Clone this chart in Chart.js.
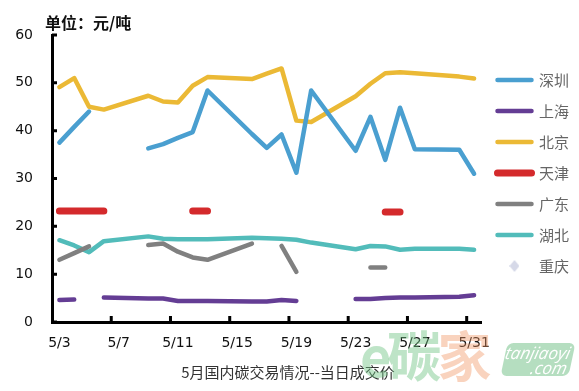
<!DOCTYPE html>
<html>
<head>
<meta charset="utf-8">
<script src="https://cdn.jsdelivr.net/npm/chart.js@4"></script>
<style>
    html, body { margin: 0; padding: 0; background: #fff; }
    #wrap { position: relative; width: 579px; height: 391px; overflow: hidden; }
    #priceChart { position: absolute; left: 0; top: 0; }
    .unit {
        position: absolute; left: 45px; top: 11px;
        font: bold 16px "Noto Sans CJK SC"; color: #111; line-height: 22px;
    }
    .caption {
        position: absolute; left: 0; width: 576px; top: 361px; text-align: center;
        font: 15px "Noto Sans CJK SC"; color: #333; line-height: 22px;
    }
    .wm {
        position: absolute; left: 360px; top: 321px; white-space: nowrap;
        font: bold 54px "Noto Sans CJK SC"; line-height: 66px; letter-spacing: -4px;
    }
    .wm .g { color: rgba(110, 195, 130, 0.45); }
    .wm .o { color: rgba(240, 150, 100, 0.42); }
    .wm-box {
        position: absolute; left: 504px; top: 343px; width: 68px; height: 33px;
        background: rgba(120, 195, 140, 0.55); border-radius: 6px;
        transform: skewX(-12deg);
        color: #fff; font: italic 17px "Open Sans"; line-height: 15px; padding-top: 2px;
        text-align: right; padding-right: 3px; box-sizing: border-box;
    }
</style>
</head>
<body>
<div id="wrap">
    <canvas id="priceChart" width="579" height="391"></canvas>
    <div class="unit">单位：元/吨</div>
    <div class="caption">5月国内碳交易情况--当日成交价</div>
    <div class="wm"><span class="g">e碳</span><span class="o">家</span></div>
    <div class="wm-box">tanjiaoyi<br>.com</div>
</div>
<script>
// x axis: every calendar day, labelled every 4th
const allDays = ['5/3', '5/4', '5/5', '5/6', '5/7', '5/8', '5/9', '5/10', '5/11', '5/12',
    '5/13', '5/14', '5/15', '5/16', '5/17', '5/18', '5/19', '5/20', '5/21', '5/22',
    '5/23', '5/24', '5/25', '5/26', '5/27', '5/28', '5/29', '5/30', '5/31'];
// trading days only (weekends skipped, lines run across them)
const tradingDays = ['5/3', '5/4', '5/5', '5/6', '5/9', '5/10', '5/11', '5/12', '5/13',
    '5/16', '5/17', '5/18', '5/19', '5/20', '5/23', '5/24', '5/25', '5/26', '5/27',
    '5/30', '5/31'];

// null = no trade that day (gap in line)
const shenzhen = [37.5, 40.8, 44.0, null, 36.3, 37.2, 38.5, 39.7, 48.4, 39.3, 36.4,
    39.2, 31.2, 48.4, 35.8, 42.9, 33.9, 44.8, 36.1, 36.0, 31.0];
const shanghai = [4.6, 4.7, null, 5.1, 4.9, 4.9, 4.4, 4.4, 4.4, 4.3, 4.3,
    4.6, 4.4, null, 4.8, 4.8, 5.0, 5.1, 5.1, 5.3, 5.6];
const beijing = [49.1, 51.0, 45.0, 44.4, 47.3, 46.1, 45.9, 49.4, 51.2, 50.8, 51.9,
    53.0, 42.1, 41.8, 47.2, 49.8, 52.0, 52.2, 52.0, 51.3, 50.9];
const tianjin = [23.2, 23.2, 23.2, 23.2, null, null, null, 23.2, 23.2, null, null,
    null, null, null, null, null, 23.0, 23.0, null, null, null];
const guangdong = [13.0, 14.4, 15.8, null, 16.1, 16.4, 14.7, 13.5, 13.0, 16.4, null,
    15.9, 10.5, null, null, 11.4, 11.4, null, null, null, null];
const hubei = [17.1, 16.0, 14.6, 16.9, 17.9, 17.4, 17.3, 17.3, 17.3, 17.6, 17.5,
    17.4, 17.2, 16.6, 15.2, 15.9, 15.8, 15.1, 15.3, 15.3, 15.1];
const chongqing = []; // no trades in May

const yMin = 0, yMax = 60, yStep = 10;

function toPoints(values) {
    return tradingDays.map((d, i) => ({ x: d, y: values[i] ?? null }));
}

function series(label, values, color, width) {
    return {
        label,
        data: toPoints(values),
        borderColor: color,
        backgroundColor: color,
        borderWidth: width,
        borderCapStyle: 'round',
        borderJoinStyle: 'round',
        pointRadius: 0,
        pointHoverRadius: 0,
        tension: 0,
        spanGaps: false
    };
}

// little diamond for the 重庆 legend entry
const diamond = document.createElement('canvas');
diamond.width = 10; diamond.height = 12;
(function () {
    const c = diamond.getContext('2d');
    c.fillStyle = '#d6d9e8';
    c.beginPath();
    c.moveTo(5, 0); c.lineTo(10, 6); c.lineTo(5, 12); c.lineTo(0, 6);
    c.closePath(); c.fill();
})();

// ticks sit inside the plot: up from the x axis at category boundaries, right from the y axis
const insideTicks = {
    id: 'insideTicks',
    afterDraw(chart) {
        const { ctx, chartArea, scales: { x, y } } = chart;
        const half = (x.getPixelForValue(1) - x.getPixelForValue(0)) / 2;
        ctx.save();
        ctx.strokeStyle = '#000';
        ctx.lineWidth = 3;
        ctx.beginPath();
        allDays.forEach((d, i) => {
            if (i > 0 && i % 4 === 0) {
                const px = x.getPixelForValue(i) - half;
                ctx.moveTo(px, chartArea.bottom);
                ctx.lineTo(px, chartArea.bottom - 6);
            }
        });
        y.ticks.forEach(t => {
            const py = y.getPixelForValue(t.value);
            ctx.moveTo(chartArea.left, py);
            ctx.lineTo(chartArea.left + 5, py);
        });
        ctx.stroke();
        ctx.restore();
    }
};

const ctx = document.getElementById('priceChart').getContext('2d');
new Chart(ctx, {
    type: 'line',
    data: {
        labels: allDays,
        datasets: [
            series('深圳', shenzhen, '#4a9fd0', 4.5),
            series('上海', shanghai, '#643d94', 4.5),
            series('北京', beijing, '#ebb935', 4.5),
            series('天津', tianjin, '#d42a2c', 7),
            series('广东', guangdong, '#808080', 4.5),
            series('湖北', hubei, '#52bcba', 4.5),
            series('重庆', chongqing, '#d6d9e8', 4.5)
        ]
    },
    options: {
        responsive: false,
        animation: false,
        events: [],
        layout: { padding: { left: 0, top: 35, right: 0, bottom: 29 } },
        plugins: {
            tooltip: { enabled: false },
            legend: {
                position: 'right',
                align: 'start',
                fullSize: false,
                maxWidth: 100,
                title: { display: true, text: '', font: { size: 10 }, padding: { top: 9.5, bottom: 0 } },
                labels: {
                    usePointStyle: true,
                    pointStyleWidth: 34,
                    padding: 16,
                    color: '#111',
                    font: { family: 'Noto Sans CJK SC', size: 15 },
                    generateLabels: chart => chart.data.datasets.map((ds, i) => ({
                        text: ds.label,
                        fillStyle: ds.borderColor,
                        strokeStyle: ds.borderColor,
                        lineWidth: ds.borderWidth,
                        lineCap: 'round',
                        pointStyle: ds.label === '重庆' ? diamond : 'line',
                        datasetIndex: i,
                        hidden: false
                    }))
                }
            }
        },
        scales: {
            x: {
                type: 'category',
                offset: true,
                afterFit: s => { s.height = 40; },
                grid: { display: false, drawTicks: false },
                border: { display: true, color: '#000', width: 3 },
                ticks: {
                    autoSkip: false,
                    maxRotation: 0,
                    padding: 13,
                    color: '#111',
                    font: { family: 'DejaVu Sans', size: 14 },
                    callback: (v, i) => (i % 4 === 0 ? allDays[i] : '')
                }
            },
            y: {
                min: yMin,
                max: yMax,
                afterFit: s => { s.width = 52; },
                grid: { display: false, drawTicks: false },
                border: { display: true, color: '#000', width: 3 },
                ticks: {
                    stepSize: yStep,
                    padding: 19,
                    color: '#111',
                    font: { family: 'DejaVu Sans', size: 14 }
                }
            }
        }
    },
    plugins: [insideTicks]
});
</script>
</body>
</html>
